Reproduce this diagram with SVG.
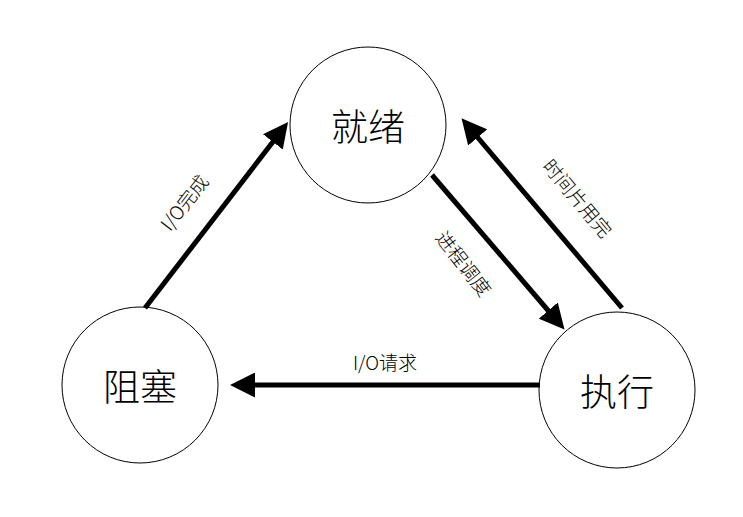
<svg xmlns="http://www.w3.org/2000/svg" width="743" height="517" viewBox="0 0 743 517">
<style>
.n{fill:#fff;stroke:#000;stroke-width:1}
.t{font-family:"Noto Sans CJK SC","Noto Sans",sans-serif;font-size:37px;font-weight:300;text-anchor:middle;dominant-baseline:central}
.l{font-family:"Noto Sans CJK SC","Noto Sans",sans-serif;font-size:19px;font-weight:300;text-anchor:middle;fill:#000}
.c{stroke:#000;stroke-width:5;fill:none;marker-end:url(#a)}
</style>
<defs><marker id="a" markerWidth="5" markerHeight="5" refX="3" refY="2.5" orient="auto"><path d="M0,0L5,2.5L0,5z"/></marker></defs>
<rect width="743" height="517" fill="#fff"/>
<g id="ready"><circle class="n" cx="368" cy="125" r="78"/><text class="t" x="368" y="125">就绪</text></g>
<g id="blocked"><circle class="n" cx="140" cy="385" r="78"/><text class="t" x="140" y="385">阻塞</text></g>
<g id="running"><circle class="n" cx="617" cy="390" r="78"/><text class="t" x="617" y="390">执行</text></g>
<g id="connectors">
<line class="c" x1="145" y1="308" x2="282" y2="130"/>
<line class="c" x1="432" y1="175" x2="558" y2="322"/>
<line class="c" x1="622" y1="308" x2="468" y2="126"/>
<line class="c" x1="540" y1="385" x2="240" y2="385"/>
<text class="l" transform="translate(190,207) rotate(-52)">I/O完成</text>
<text class="l" transform="translate(458,268) rotate(52)">进程调度</text>
<text class="l" transform="translate(572,203) rotate(50)">时间片用完</text>
<text class="l" x="385" y="370">I/O请求</text>
</g>
</svg>
